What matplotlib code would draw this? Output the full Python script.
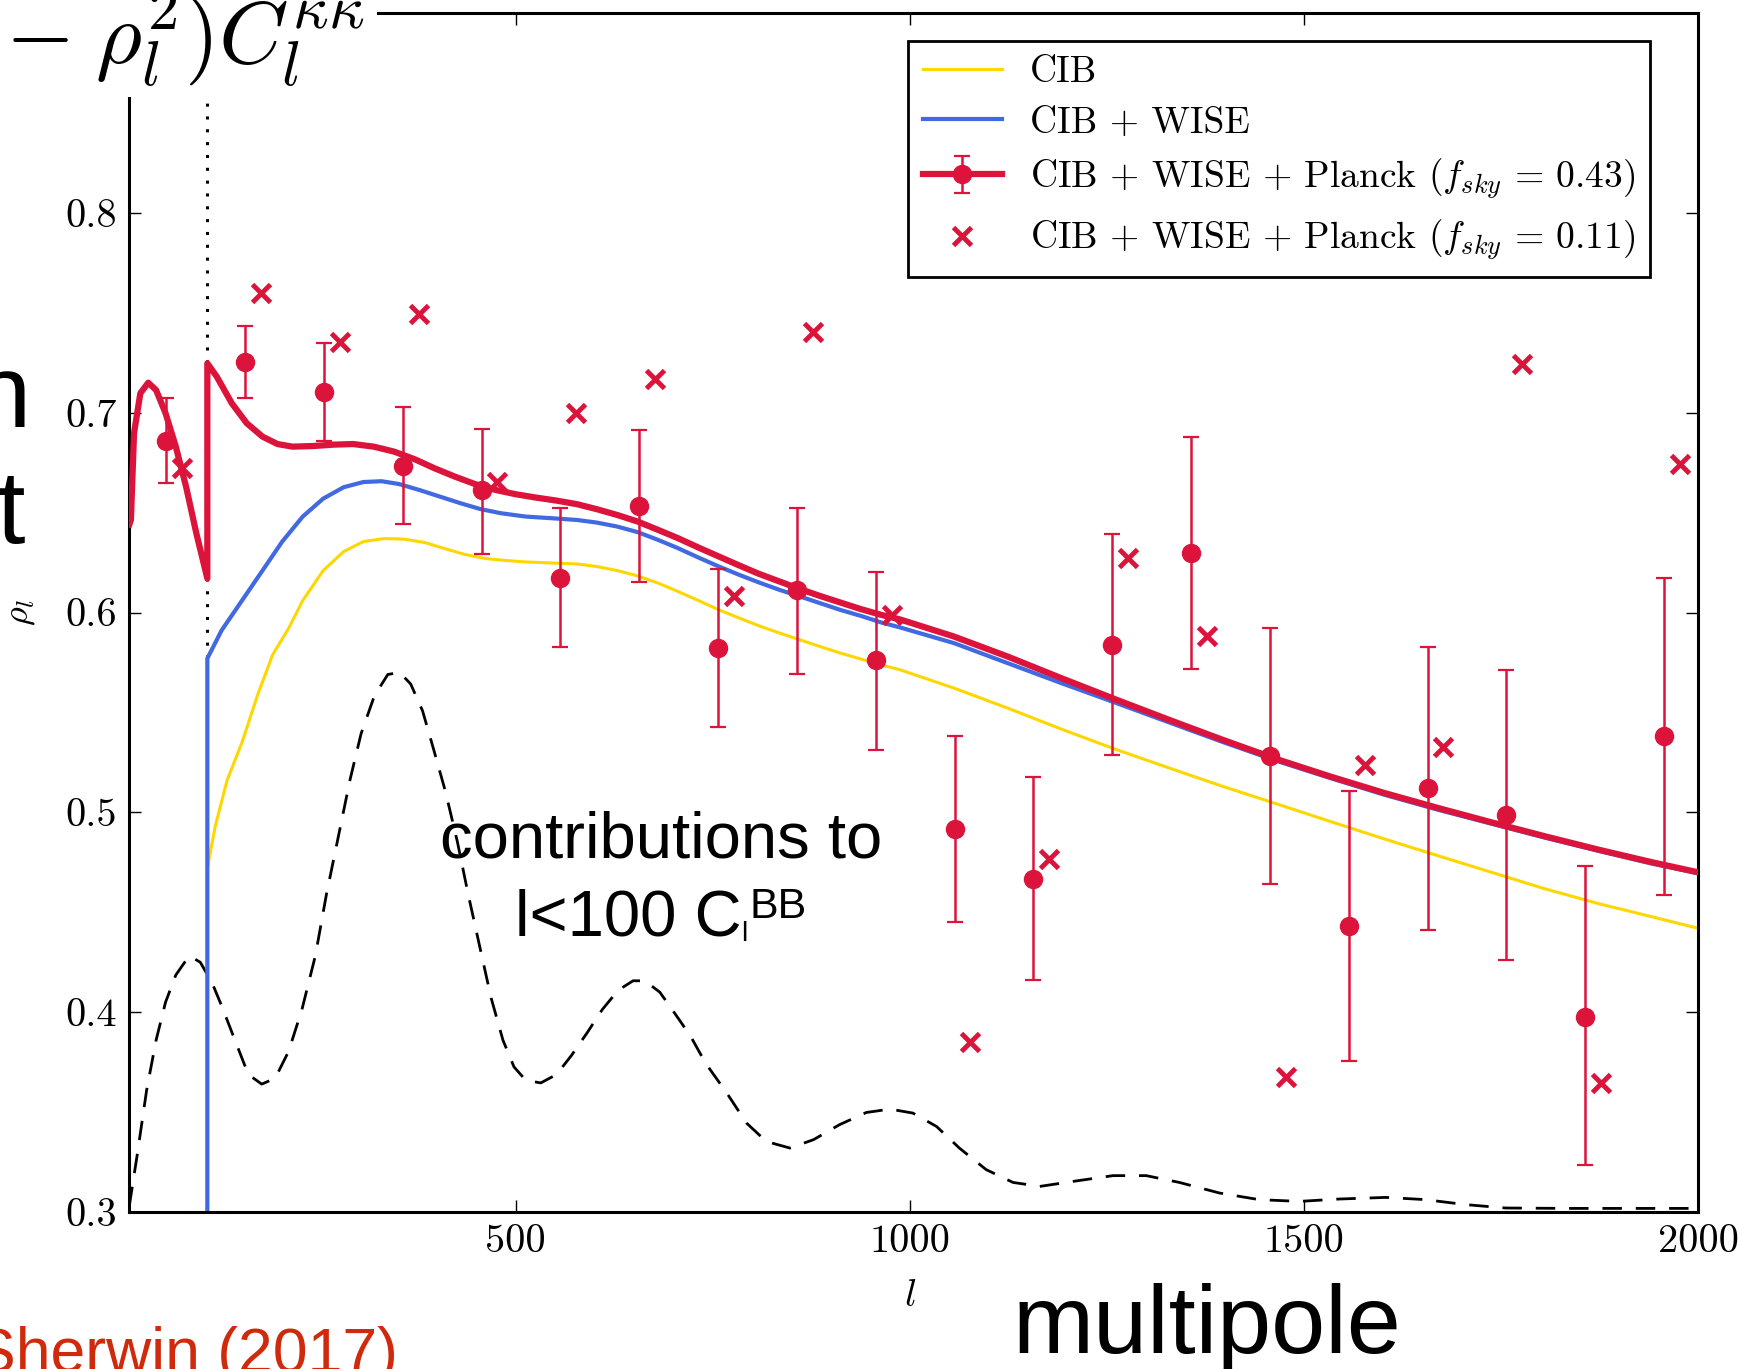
import matplotlib
matplotlib.use('Agg')
import matplotlib.pyplot as plt
from matplotlib.patches import Rectangle
from matplotlib.font_manager import FontProperties

plt.rcParams['mathtext.fontset'] = 'cm'
plt.rcParams['axes.unicode_minus'] = False
plt.rcParams['axes.formatter.use_mathtext'] = True

# --- data ---
cib_l = [109, 109, 119, 134, 153, 173, 192, 212, 230, 256, 282, 307, 333, 359, 385, 410,
         436, 462, 488, 513, 545, 578, 603, 629, 655, 681, 706, 732, 758, 784, 809, 835,
         861, 886, 912, 938, 964, 988, 1056, 1124, 1192, 1260, 1329, 1397, 1465, 1533,
         1602, 1670, 1738, 1806, 1874, 1942, 2000]
cib_rho = [0.30, 0.472, 0.493, 0.516, 0.535, 0.559, 0.579, 0.592, 0.606, 0.621, 0.6305,
           0.6355, 0.637, 0.6367, 0.635, 0.632, 0.629, 0.627, 0.626, 0.6253, 0.6248,
           0.6243, 0.623, 0.621, 0.6183, 0.6147, 0.6105, 0.606, 0.6013, 0.5972, 0.5933,
           0.5897, 0.5863, 0.583, 0.5797, 0.5767, 0.5738, 0.5713, 0.5622, 0.5522, 0.5417,
           0.5317, 0.5222, 0.513, 0.5043, 0.4955, 0.4867, 0.4783, 0.47, 0.4617, 0.4543,
           0.4477, 0.442]

wise_l = [109, 109, 127, 153, 179, 204, 230, 256, 282, 307, 330, 352, 378, 404, 430, 455,
          481, 513, 545, 578, 603, 629, 655, 681, 706, 732, 758, 784, 809, 835, 861, 886,
          912, 938, 964, 988, 1056, 1124, 1192, 1260, 1329, 1397, 1465, 1533, 1602, 1670,
          1738, 1806, 1874, 1942, 2000]
wise_rho = [0.30, 0.577, 0.591, 0.606, 0.621, 0.6355, 0.648, 0.657, 0.6627, 0.6653,
            0.6657, 0.6643, 0.6613, 0.658, 0.6547, 0.6518, 0.6497, 0.648, 0.6472, 0.6463,
            0.645, 0.643, 0.6402, 0.6363, 0.6322, 0.6275, 0.623, 0.6188, 0.615, 0.6113,
            0.608, 0.6047, 0.6013, 0.5983, 0.595, 0.5925, 0.5847, 0.5747, 0.5647, 0.555,
            0.545, 0.5352, 0.5258, 0.5172, 0.5088, 0.5013, 0.4943, 0.4873, 0.4807, 0.4743,
            0.4695]

planck_l = [10, 12, 16, 24, 34, 44, 56, 69, 82, 95, 109, 109, 121, 140, 159, 179, 198,
            217, 243, 269, 294, 320, 346, 372, 397, 423, 449, 475, 500, 526, 552, 578, 603,
            629, 655, 681, 706, 732, 758, 784, 809, 835, 861, 886, 912, 938, 964, 988,
            1056, 1124, 1192, 1260, 1329, 1397, 1465, 1533, 1602, 1670, 1738, 1806, 1874,
            1942, 2000]
planck_rho = [0.644, 0.6463, 0.6897, 0.7097, 0.715, 0.7113, 0.6997, 0.683, 0.663, 0.6397,
              0.617, 0.7247, 0.718, 0.7047, 0.6947, 0.688, 0.6843, 0.683, 0.6833, 0.684,
              0.6843, 0.683, 0.6805, 0.6767, 0.6722, 0.668, 0.6642, 0.6613, 0.6592,
              0.6575, 0.656, 0.6542, 0.6517, 0.6488, 0.6455, 0.6413, 0.6372, 0.6325,
              0.628, 0.6235, 0.6193, 0.6155, 0.6117, 0.6083, 0.605, 0.6017, 0.5988,
              0.5965, 0.588, 0.578, 0.5672, 0.5567, 0.5463, 0.5363, 0.5267, 0.518,
              0.5097, 0.5022, 0.495, 0.488, 0.4813, 0.475, 0.470]

bb_l = [10, 20, 32, 44, 56, 69, 86, 100, 115, 127, 144, 161, 178, 195, 212, 229, 246,
        260, 275, 290, 304, 321, 338, 353, 367, 382, 396, 411, 426, 440, 455, 469, 484,
        498, 513, 532, 552, 571, 591, 610, 630, 649, 664, 683, 702, 722, 741, 768, 793,
        818, 848, 878, 911, 945, 975, 1004, 1034, 1063, 1097, 1131, 1165, 1207, 1258,
        1300, 1342, 1393, 1443, 1494, 1545, 1604, 1654, 1705, 1756, 1832, 1916, 2000]
bb_rho = [0.303, 0.3285, 0.361, 0.386, 0.405, 0.4186, 0.4282, 0.425, 0.4147, 0.4033,
          0.386, 0.3688, 0.364, 0.3669, 0.3803, 0.4013, 0.4282, 0.4588, 0.4875, 0.5163,
          0.5393, 0.5584, 0.569, 0.570, 0.5642, 0.5508, 0.5316, 0.5105, 0.4856, 0.4588,
          0.432, 0.4071, 0.386, 0.3726, 0.3659, 0.3646, 0.3688, 0.3784, 0.3898, 0.4013,
          0.4109, 0.4157, 0.4157, 0.41, 0.3994, 0.388, 0.3745, 0.3595, 0.3445, 0.3353,
          0.332, 0.3362, 0.3437, 0.3498, 0.3515, 0.3495, 0.3428, 0.332, 0.3212, 0.3148,
          0.3128, 0.3153, 0.3182, 0.3182, 0.3148, 0.3095, 0.3062, 0.3053, 0.3065,
          0.3073, 0.3062, 0.3037, 0.302, 0.3018, 0.3018, 0.3018]

bin_l = [57, 157, 257, 357, 457, 557, 657, 757, 857, 957, 1057, 1157, 1257, 1357, 1457,
         1557, 1657, 1757, 1857, 1957]
bin_rho = [0.686, 0.7252, 0.7105, 0.6735, 0.6613, 0.6175, 0.6535, 0.5822, 0.6113, 0.576,
           0.4917, 0.4668, 0.5838, 0.630, 0.528, 0.4433, 0.512, 0.4988, 0.3978, 0.538]
bin_hi = [0.7072, 0.7433, 0.735, 0.7028, 0.6917, 0.6522, 0.6912, 0.6217, 0.6523, 0.6205,
          0.5383, 0.5178, 0.6392, 0.688, 0.592, 0.5108, 0.5828, 0.5712, 0.473, 0.6175]
bin_lo = [0.6647, 0.7072, 0.6858, 0.6442, 0.6295, 0.5825, 0.6155, 0.5427, 0.5692, 0.5313,
          0.445, 0.416, 0.5285, 0.5715, 0.4642, 0.3756, 0.441, 0.4263, 0.3233, 0.4585]

small_l = [77, 177, 277, 377, 477, 577, 677, 777, 877, 977, 1077, 1177, 1277, 1377, 1477,
           1577, 1677, 1777, 1877, 1977]
small_rho = [0.6725, 0.760, 0.7355, 0.7492, 0.6655, 0.6997, 0.7167, 0.6083, 0.7405,
             0.5988, 0.385, 0.4767, 0.6272, 0.588, 0.3675, 0.5235, 0.5327, 0.7244, 0.3645,
             0.6744]

lmin_cut = 109

x_ticks = [500, 1000, 1500, 2000]
x_tick_labels = ['500', '1000', '1500', '2000']
y_ticks = [0.3, 0.4, 0.5, 0.6, 0.7, 0.8]
y_tick_labels = ['0.3', '0.4', '0.5', '0.6', '0.7', '0.8']

legend_labels = ['CIB', 'CIB + WISE',
                 r'CIB + WISE + Planck $(f_{sky}\,=\,0.43)$',
                 r'CIB + WISE + Planck $(f_{sky}\,=\,0.11)$']

# --- figure ---
W, H = 1740, 1369
def fx(px):
    return px / W
def fy(py):
    return 1 - py / H

fig = plt.figure(figsize=(W / 100, H / 100), dpi=100)
ax = fig.add_axes([fx(129.3), fy(1212), (1698 - 129.3) / W, (1212 - 13) / H])

ax.plot(bb_l, bb_rho, color='black', lw=2.0, dashes=(7, 5), zorder=1.5)
h_cib, = ax.plot(cib_l, cib_rho, color='gold', lw=2.2, zorder=2)
h_wise, = ax.plot(wise_l, wise_rho, color='royalblue', lw=3.0, zorder=2.1)
h_red, = ax.plot(planck_l, planck_rho, color='crimson', lw=4.5, zorder=3)
ax.plot([lmin_cut, lmin_cut], [wise_rho[1], 0.9], color='black', lw=2.2,
        dashes=(1, 3.2), zorder=1.8)

yerr = [[r - lo for r, lo in zip(bin_rho, bin_lo)],
        [hi - r for r, hi in zip(bin_rho, bin_hi)]]
h_err = ax.errorbar(bin_l, bin_rho, yerr=yerr, fmt='o', color='crimson', ms=13,
                    mec='crimson', elinewidth=1.8, capsize=6, capthick=1.6, zorder=3.5)
h_x, = ax.plot(small_l, small_rho, 'x', color='crimson', ms=13, mew=3.5,
               linestyle='none', zorder=3.5)

ax.set_xlim(10, 2000)
ax.set_ylim(0.3, 0.9)
ax.set_xticks(x_ticks, x_tick_labels)
ax.set_yticks(y_ticks, y_tick_labels)
ax.tick_params(direction='in', length=8.6, width=1.0, labelsize=29, pad=9,
               top=True, right=True, labelfontfamily='cmr10')
for sp in ax.spines.values():
    sp.set_linewidth(2.2)

ax.set_xlabel(r'$l$', fontsize=28)
ax.xaxis.set_label_coords(0.4977, -0.053)
ax.set_ylabel(r'$\rho_l$', fontsize=26)
ax.yaxis.set_label_coords(-0.059, 0.5)

leg = ax.legend([h_cib, h_wise, (h_red, h_err), h_x], legend_labels,
                loc='upper right', bbox_to_anchor=(0.9694, 0.9766), borderaxespad=0,
                prop=FontProperties(family='cmr10', size=27), handlelength=2.1,
                handletextpad=0.75, borderpad=0.4, labelspacing=0.45, numpoints=1,
                fancybox=False, edgecolor='black', framealpha=1)
leg.get_frame().set_linewidth(2.0)

# --- slide overlays ---
fig.add_artist(Rectangle((0, fy(97)), fx(377), 97 / H, transform=fig.transFigure,
                         facecolor='white', edgecolor='none', zorder=10))
fig.text(fx(5), fy(64), r'$-\;\rho_l^2)C_l^{\kappa\kappa}$', fontsize=64,
         ha='left', va='baseline', zorder=11)

sans = 'Liberation Sans'
fig.text(fx(30), fy(427), 'n', fontsize=74, family=sans, ha='right', va='baseline')
fig.text(fx(25), fy(543), 't', fontsize=74, family=sans, ha='right', va='baseline')
fig.text(fx(398), fy(1372), 'Sherwin (2017)', fontsize=45, family=sans,
         color='#D02A0C', ha='right', va='baseline')
fig.text(fx(1013), fy(1353), 'multipole', fontsize=70, family=sans,
         ha='left', va='baseline')
fig.text(fx(661), fy(858), 'contributions to', fontsize=47, family=sans,
         ha='center', va='baseline', zorder=12)
fig.text(fx(515), fy(935), 'l<100 C', fontsize=47, family=sans,
         ha='left', va='baseline', zorder=12)
fig.text(fx(741), fy(941), 'l', fontsize=20, family=sans,
         ha='left', va='baseline', zorder=12)
fig.text(fx(750), fy(918), 'BB', fontsize=31, family=sans,
         ha='left', va='baseline', zorder=12)

fig.savefig('out.png', dpi=100)
